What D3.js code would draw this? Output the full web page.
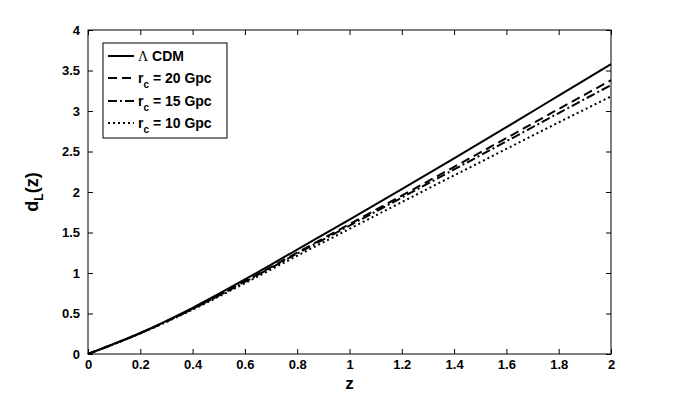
<!DOCTYPE html>
<html><head><meta charset="utf-8">
<script src="https://cdn.jsdelivr.net/npm/d3@7"></script>
<style>body{margin:0;background:#fff}svg{display:block}text{font-family:"Liberation Sans",Arial,sans-serif;font-weight:bold;fill:#000}</style>
</head><body><svg id="c" width="675" height="399"></svg>
<script>
const zValues = [0, 0.2, 0.4, 0.6, 0.8, 1.0, 1.2, 1.4, 1.6, 1.8, 2.0];
const lcdm  = [0, 0.260, 0.570, 0.920, 1.290, 1.660, 2.035, 2.415, 2.800, 3.190, 3.580];
const rc20  = [0, 0.257, 0.559, 0.897, 1.252, 1.603, 1.955, 2.310, 2.666, 3.025, 3.380];
const rc15  = [0, 0.256, 0.556, 0.890, 1.240, 1.585, 1.931, 2.278, 2.626, 2.975, 3.320];
const rc10  = [0, 0.254, 0.548, 0.874, 1.213, 1.545, 1.875, 2.205, 2.532, 2.859, 3.180];
const xTicks = [0, 0.2, 0.4, 0.6, 0.8, 1, 1.2, 1.4, 1.6, 1.8, 2];
const yTicks = [0, 0.5, 1, 1.5, 2, 2.5, 3, 3.5, 4];
const seriesNames = ["\u039B CDM", "r_c = 20 Gpc", "r_c = 15 Gpc", "r_c = 10 Gpc"];
const dashes = [null, "9,5", "9,3,2,3", "2,3"];

const svg = d3.select("#c");
const L = 88, R = 611, T = 30, B = 354;
const x = d3.scaleLinear().domain([0, 2]).range([L, R]);
const y = d3.scaleLinear().domain([0, 4]).range([B, T]);

const series = [lcdm, rc20, rc15, rc10];
const line = d3.line().x((d, i) => x(zValues[i])).y(d => y(d)).curve(d3.curveMonotoneX);

const g = svg.append("g");
series.forEach((s, k) => {
  g.append("path").datum(s).attr("d", line).attr("fill", "none")
    .attr("stroke", "#000").attr("stroke-width", 2)
    .attr("stroke-dasharray", dashes[k]);
});

const fmt = d => String(d);
const ax = (gen, tr) => svg.append("g").attr("transform", tr).call(gen);
const styleAx = sel => {
  sel.select(".domain").remove();
  sel.selectAll("line").attr("stroke", "#000");
  sel.selectAll("text").style("font-size", "13px").style("font-family", "'Liberation Sans',Arial,sans-serif").style("font-weight", "bold");
};
styleAx(ax(d3.axisBottom(x).tickValues(xTicks).tickFormat(fmt).tickSizeInner(-5).tickSizeOuter(0).tickPadding(6), `translate(0,${B})`));
styleAx(ax(d3.axisTop(x).tickValues(xTicks).tickFormat("").tickSizeInner(-5).tickSizeOuter(0), `translate(0,${T})`));
styleAx(ax(d3.axisLeft(y).tickValues(yTicks).tickFormat(fmt).tickSizeInner(-5).tickSizeOuter(0).tickPadding(8), `translate(${L},0)`));
styleAx(ax(d3.axisRight(y).tickValues(yTicks).tickFormat("").tickSizeInner(-5).tickSizeOuter(0), `translate(${R},0)`));
svg.append("rect").attr("x", L).attr("y", T).attr("width", R - L).attr("height", B - T)
  .attr("fill", "none").attr("stroke", "#000").attr("stroke-width", 1);

svg.append("text").attr("x", (L + R) / 2).attr("y", 389).attr("text-anchor", "middle")
  .style("font-size", "17px").text("z");
const yl = svg.append("text").attr("transform", `translate(38,${(T + B) / 2}) rotate(-90)`)
  .attr("text-anchor", "middle").style("font-size", "18px");
yl.append("tspan").text("d");
yl.append("tspan").attr("dy", 5).style("font-size", "12px").text("L");
yl.append("tspan").attr("dy", -5).text("(z)");

const lg = svg.append("g");
lg.append("rect").attr("x", 103).attr("y", 43).attr("width", 124).attr("height", 95)
  .attr("fill", "#fff").attr("stroke", "#000").attr("stroke-width", 1);
const ly = [56, 78, 101, 123];
seriesNames.forEach((n, k) => {
  lg.append("line").attr("x1", 108).attr("x2", 134).attr("y1", ly[k]).attr("y2", ly[k])
    .attr("stroke", "#000").attr("stroke-width", 2).attr("stroke-dasharray", dashes[k]);
  const t = lg.append("text").attr("x", 138).attr("y", ly[k] + 5).style("font-size", "14px");
  if (k === 0) {
    t.append("tspan").style("font-family", "'Liberation Serif',serif").style("font-weight", "normal").text("\u039B");
    t.append("tspan").text(" CDM");
  } else {
    const parts = n.split(" = ");
    t.append("tspan").text("r");
    t.append("tspan").attr("dy", 5).style("font-size", "10px").text("c");
    t.append("tspan").attr("dy", -5).text(" = " + parts[1]);
  }
});
</script></body></html>
